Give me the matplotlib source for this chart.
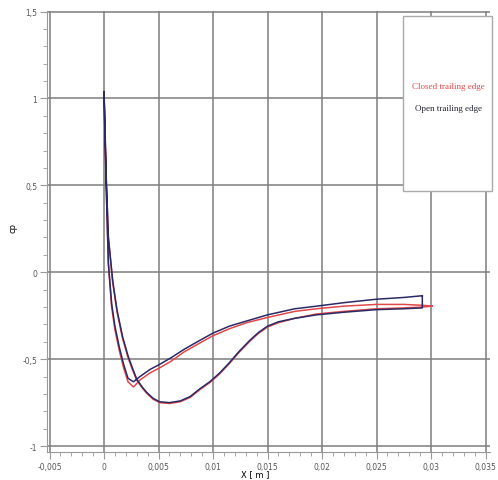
import matplotlib
matplotlib.use("Agg")
import matplotlib.pyplot as plt
from matplotlib.patches import Rectangle
from matplotlib.ticker import MultipleLocator, FuncFormatter

# Branch with the higher trailing-edge pressure
x_a = [0, 0.0001, 0.0002, 0.0004, 0.0007, 0.001, 0.0014, 0.0018, 0.0022, 0.0027,
       0.0033, 0.0042, 0.0051, 0.0062, 0.0073, 0.0087, 0.010, 0.0115, 0.0131, 0.015,
       0.0175, 0.0195, 0.022, 0.025, 0.0275, 0.0292]
cp_a_open = [1.04, 0.75, 0.5, 0.05, -0.18, -0.31, -0.43, -0.53, -0.61, -0.63,
             -0.60, -0.56, -0.53, -0.49, -0.445, -0.395, -0.35, -0.31, -0.28, -0.245,
             -0.21, -0.195, -0.175, -0.155, -0.145, -0.135]
cp_a_closed = [1.04, 0.75, 0.5, 0.05, -0.2, -0.33, -0.45, -0.55, -0.63, -0.66,
               -0.62, -0.58, -0.55, -0.51, -0.46, -0.41, -0.365, -0.325, -0.29, -0.26,
               -0.225, -0.21, -0.195, -0.185, -0.185, -0.19]

# Branch with the deep suction peak
x_b = [0, 0.0001, 0.0002, 0.0004, 0.0008, 0.0012, 0.0017, 0.0022, 0.0026, 0.003,
       0.0035, 0.0039, 0.0045, 0.0051, 0.006, 0.007, 0.0079, 0.0088, 0.0097, 0.0106,
       0.0115, 0.0124, 0.0134, 0.0142, 0.015, 0.016, 0.0175, 0.0195, 0.022, 0.025,
       0.0275, 0.0292]
cp_b_open = [1.04, 0.8, 0.55, 0.2, -0.05, -0.22, -0.37, -0.48, -0.55, -0.615,
             -0.66, -0.69, -0.725, -0.745, -0.75, -0.74, -0.715, -0.67, -0.63, -0.58,
             -0.52, -0.455, -0.39, -0.345, -0.31, -0.285, -0.265, -0.245, -0.23, -0.215,
             -0.21, -0.205]
cp_b_closed = [1.04, 0.8, 0.55, 0.2, -0.06, -0.23, -0.38, -0.49, -0.56, -0.62,
               -0.665, -0.695, -0.73, -0.75, -0.755, -0.745, -0.72, -0.675, -0.635, -0.585,
               -0.525, -0.46, -0.395, -0.35, -0.315, -0.29, -0.265, -0.24, -0.225, -0.21,
               -0.205, -0.2]

# closed trailing edge meets in a single point
te_closed = (0.0301, -0.195)

red = "#e0484a"
navy = "#2b2a66"

fig = plt.figure(figsize=(4.98, 4.81), dpi=100)
ax = fig.add_axes([47 / 498, 28 / 481, 443 / 498, 441 / 481])

# closed: TE -> branch A -> LE -> branch B -> TE
xc = [te_closed[0]] + x_a[::-1] + x_b[1:] + [te_closed[0]]
yc = [te_closed[1]] + cp_a_closed[::-1] + cp_b_closed[1:] + [te_closed[1]]
ax.plot(xc, yc, color=red, lw=1.1, zorder=3)

# open: blunt base drawn as a vertical segment at the end
xo = x_a[::-1] + x_b[1:] + [x_a[-1]]
yo = cp_a_open[::-1] + cp_b_open[1:] + [cp_a_open[-1]]
ax.plot(xo, yo, color=navy, lw=1.1, zorder=4)

ax.set_xlim(-0.00523, 0.03541)
ax.set_ylim(-1.034, 1.503)

ax.xaxis.set_major_locator(MultipleLocator(0.005))
ax.xaxis.set_minor_locator(MultipleLocator(0.001))
ax.yaxis.set_major_locator(MultipleLocator(0.5))
ax.yaxis.set_minor_locator(MultipleLocator(0.1))

def comma(v, pos):
    s = f"{v:.3f}".rstrip("0").rstrip(".")
    if s in ("-0", ""):
        s = "0"
    return s.replace(".", ",")

ax.xaxis.set_major_formatter(FuncFormatter(comma))
ax.yaxis.set_major_formatter(FuncFormatter(comma))

ax.grid(True, which="major", color="#7d7d7d", lw=1.1)
ax.tick_params(which="both", direction="out", color="#999999", labelcolor="#555555",
               labelsize=5.5, pad=2)
ax.tick_params(which="major", length=5)
ax.tick_params(which="minor", length=3)

for side in ("top", "right"):
    ax.spines[side].set_visible(False)
for side in ("left", "bottom"):
    ax.spines[side].set_color("#999999")

ax.set_xlabel("X [ m ]", fontsize=6, va="center")
ax.set_ylabel("cp", fontsize=6, va="center")
ax.xaxis.set_label_coords(208 / 443, -22 / 441)
ax.yaxis.set_label_coords(-34 / 443, 225 / 441)

# legend box
fig.patches.append(Rectangle((403 / 498, 1 - 192 / 481), 89 / 498, 175 / 481,
                             transform=fig.transFigure, facecolor="white",
                             edgecolor="#aaaaaa", lw=1.0, zorder=5))
fig.text(448 / 498, 1 - 87 / 481, "Closed trailing edge", color=red,
         family="Liberation Serif", fontsize=6.5, ha="center", va="center", zorder=6)
fig.text(448 / 498, 1 - 109 / 481, "Open trailing edge", color="#222233",
         family="Liberation Serif", fontsize=6.5, ha="center", va="center", zorder=6)

fig.savefig("out.png", dpi=100)
